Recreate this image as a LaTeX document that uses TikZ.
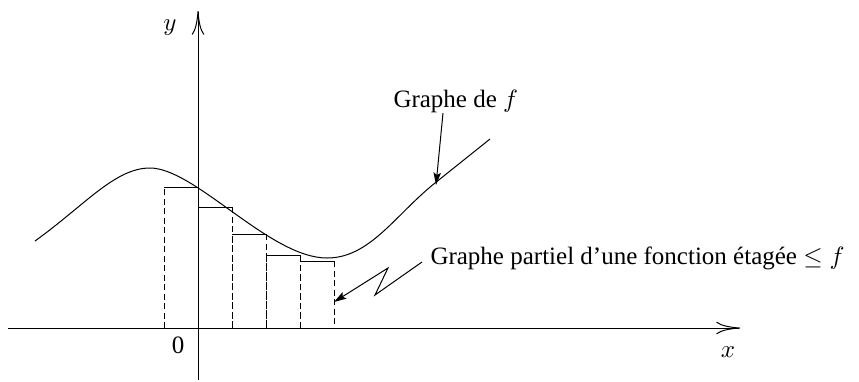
\documentclass[tikz,border=0pt]{standalone}
\usepackage{fontspec}
\setmainfont{Liberation Serif}
\usetikzlibrary{arrows.meta}

\begin{document}
\begin{tikzpicture}[x=0.4pt, y=-0.4pt, every node/.style={font=\normalsize, inner sep=0pt},
	>={Stealth[length=5pt, width=3pt, inset=1pt]},
	axis/.style={-{Computer Modern Rightarrow[length=9.5pt, width=5pt]}},
	stepside/.style={dash pattern=on 2.4pt off 1.4pt}]
	\useasboundingbox (0,0) rectangle (859,381);
	% axes
	\coordinate (xstart) at (8,328);
	\coordinate (xend) at (740,328);
	\coordinate (ystart) at (198,380);
	\coordinate (yend) at (198,11);
	\draw[axis] (xstart) -- (xend);
	\draw[axis] (ystart) -- (yend);
	\node (ylab) at (170,28) {$y$};
	\node (xlab) at (728,352) {$x$};
	\node (zero) at (178,345) {0};
	% steps below the graph
	\foreach \a/\b/\h in {164/198/187, 198/232/207, 232/266/234, 266/300/255, 300/334/261} {
		\draw[stepside] (\a,328) -- (\a,\h);
		\draw (\a,\h) -- (\b,\h);
		\draw[stepside] (\b,\h) -- (\b,328);
	}
	% graph of f
	\draw (35,241) .. controls (85,205) and (115,168) .. (150,168)
		.. controls (195,168) and (270,258) .. (327,258)
		.. controls (370,258) and (395,215) .. (435,183) -- (490,139);
	% labels
	\node[anchor=base west] (lblf) at (393,107) {Graphe de $f$};
	\node[anchor=base west] (lblstep) at (430,264) {Graphe partiel d'une fonction étagée $\leq f$};
	\coordinate (fstart) at (443,113);
	\coordinate (ftip) at (436,185);
	\draw[->] (fstart) -- (ftip);
	\coordinate (zz0) at (422,262);
	\coordinate (zz1) at (375,295);
	\coordinate (zz2) at (388,268);
	\coordinate (ztip) at (334,302);
	\draw[->] (zz0) -- (zz1) -- (zz2) -- (ztip);
\end{tikzpicture}
\end{document}
